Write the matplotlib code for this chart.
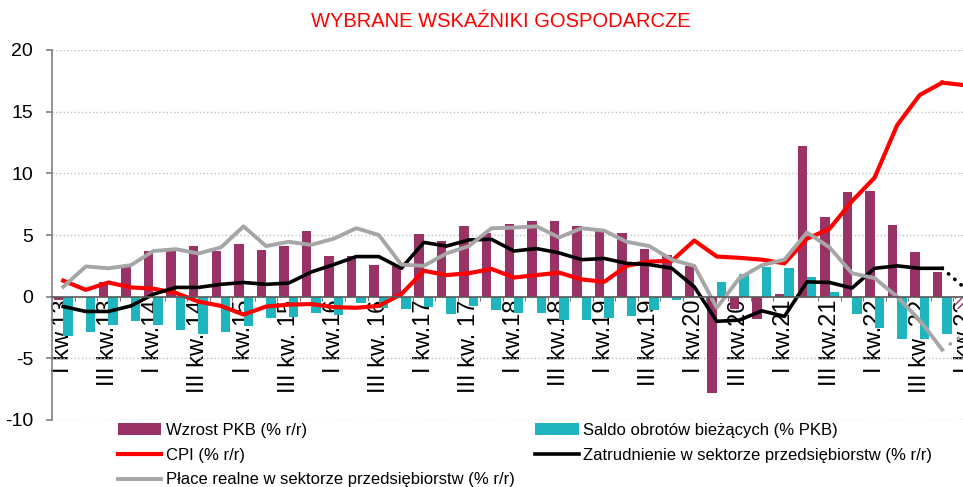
import matplotlib
matplotlib.use("Agg")
import matplotlib.pyplot as plt
import numpy as np
from matplotlib import font_manager

# kwartały I kw.13 ... I kw.23 (ostatni to prognoza)
tick_labels = ['I kw.13', 'III kw.13', 'I kw.14', 'III kw. 14', 'I kw.15', 'III kw. 15',
               'I kw.16', 'III kw. 16', 'I kw.17', 'III kw. 17', 'I kw.18', 'III kw.18',
               'I kw.19', 'III kw.19', 'I kw.20', 'III kw.20', 'I kw.21', 'III kw.21',
               'I kw.22', 'III kw. 22', 'I kw.23']

pkb = [-0.3, 0.0, 1.2, 2.4, 3.7, 3.7, 4.1, 3.7, 4.3, 3.8, 4.1, 5.3, 3.3, 3.3, 2.6, 2.5,
       5.1, 4.5, 5.7, 5.2, 5.9, 6.1, 6.1, 5.7, 5.35, 5.2, 3.9, 3.4, 2.5, -7.8, -1.0, -1.8,
       0.2, 12.2, 6.5, 8.5, 8.6, 5.8, 3.6, 2.0, -1.0]
saldo = [-3.2, -2.9, -2.3, -1.95, -2.3, -2.7, -3.05, -2.9, -2.35, -1.7, -1.65, -1.3, -1.5,
         -0.5, -0.9, -1.0, -0.8, -1.4, -0.75, -1.1, -1.35, -1.35, -1.9, -1.9, -1.75, -1.55,
         -1.1, -0.25, 0.05, 1.2, 1.8, 2.4, 2.3, 1.6, 0.4, -1.4, -2.5, -3.4, -3.4, -3.0, -2.5]
cpi = [1.3, 0.55, 1.15, 0.75, 0.65, 0.3, -0.4, -0.75, -1.45, -0.8, -0.65, -0.6, -0.85,
       -0.9, -0.75, 0.2, 2.1, 1.75, 1.9, 2.25, 1.55, 1.75, 1.95, 1.4, 1.2, 2.5, 2.85,
       2.9, 4.55, 3.25, 3.15, 3.0, 2.7, 4.7, 5.5, 7.75, 9.65, 13.9, 16.35, 17.35, 17.15]
zatrudnienie = [-0.8, -1.2, -1.2, -0.75, 0.2, 0.75, 0.75, 1.0, 1.15, 1.0, 1.1, 2.0, 2.6,
                3.25, 3.25, 2.3, 4.4, 4.1, 4.6, 4.65, 3.7, 3.9, 3.55, 3.0, 3.1, 2.7, 2.6,
                2.3, 0.8, -2.0, -1.9, -1.15, -1.6, 1.2, 1.15, 0.7, 2.3, 2.5, 2.3, 2.3, 0.7]
place = [0.8, 2.45, 2.3, 2.55, 3.7, 3.85, 3.5, 4.0, 5.7, 4.1, 4.45, 4.2, 4.7, 5.55, 5.0,
         2.6, 2.5, 3.5, 4.1, 5.55, 5.6, 5.7, 4.8, 5.55, 5.35, 4.45, 4.1, 3.0, 2.5, -0.9,
         1.5, 2.55, 3.0, 5.2, 4.0, 1.9, 1.5, 0.0, -1.9, -4.3, -3.0]

names = {f.name for f in font_manager.fontManager.ttflist}
narrow = 'Liberation Sans Narrow' if 'Liberation Sans Narrow' in names else 'Liberation Sans'
plt.rcParams['font.family'] = ['Liberation Sans', 'DejaVu Sans']
plt.rcParams['axes.unicode_minus'] = False

x = np.arange(len(pkb))
n_act = len(pkb) - 1  # ostatni punkt = prognoza
w = 0.42

fig = plt.figure(figsize=(9.63, 4.87), dpi=100)
ax = fig.add_axes([52/963, 1-420/487, 924/963, 370/487])

b1 = ax.bar(x - w/2, pkb, w, color='#993366', zorder=2)
b2 = ax.bar(x + w/2, saldo, w, color='#1FB5BE', zorder=2)
for b, c in ((b1[-1], '#993366'), (b2[-1], '#1FB5BE')):
    b.set_facecolor('white')
    b.set_edgecolor(c)
    b.set_hatch('/////')
    b.set_linewidth(0)

ax.plot(x[:n_act], cpi[:n_act], color='red', lw=3.0, zorder=3)
ax.plot(x[n_act-1:], cpi[n_act-1:], color='red', lw=3.0, zorder=3)
ax.plot(x[:n_act], zatrudnienie[:n_act], color='black', lw=2.6, zorder=4)
ax.plot(x[n_act-1:], zatrudnienie[n_act-1:], color='black', lw=2.6,
        linestyle=(0, (0.1, 2.2)), dash_capstyle='round', zorder=4)
ax.plot(x[:n_act], place[:n_act], color='#A6A6A6', lw=2.8, zorder=5)
ax.plot(x[n_act-1:], place[n_act-1:], color='#A6A6A6', lw=2.6,
        linestyle=(0, (0.1, 2.6)), dash_capstyle='round', zorder=5)

ax.set_xlim(-0.5, len(pkb) - 0.5)
ax.set_ylim(-10, 20)
ax.set_yticks(np.arange(-10, 21, 5))
ax.yaxis.grid(True, linestyle=':', color='#BFBFBF', lw=1.0, zorder=0)
ax.set_axisbelow(True)

ax.spines['top'].set_visible(False)
ax.spines['right'].set_visible(False)
ax.spines['left'].set_color('#808080')
ax.spines['left'].set_linewidth(1.2)
ax.spines['bottom'].set_position(('data', 0))
ax.spines['bottom'].set_color('#595959')
ax.spines['bottom'].set_linewidth(1.2)
ax.spines['bottom'].set_zorder(6)

ax.set_xticks(x[::2])
ax.set_xticklabels(tick_labels, rotation=90, family=[narrow, 'DejaVu Sans'], fontsize=17)
ax.set_xticks(np.arange(-0.5, len(pkb), 1), minor=True)
ax.tick_params(axis='x', which='major', length=0, pad=2)
ax.tick_params(axis='x', which='minor', length=3, color='#595959', direction='out')
ax.tick_params(axis='y', length=4.5, color='#808080', width=1.2, pad=9, labelsize=14)
for t in ax.get_yticklabels():
    t.set_family([narrow, 'DejaVu Sans'])

fig.text(0.52, 0.955, 'WYBRANE WSKAŹNIKI GOSPODARCZE', ha='center', va='center',
         color='red', fontsize=14.5)

h = [b1, ax.lines[0], ax.lines[4], b2, ax.lines[2]]
lab = ['Wzrost PKB (% r/r)', 'CPI (% r/r)', 'Płace realne w sektorze przedsiębiorstw (% r/r)',
       'Saldo obrotów bieżących (% PKB)', 'Zatrudnienie w sektorze przedsiębiorstw (% r/r)']
fig.legend(h, lab, loc='upper left', bbox_to_anchor=(118/963, 1-423/487), ncol=2,
           frameon=False, fontsize=12, borderpad=0, borderaxespad=0,
           handlelength=2.6, handletextpad=0.25, columnspacing=1.25, labelspacing=0.58)

fig.savefig('out.png', dpi=100)
